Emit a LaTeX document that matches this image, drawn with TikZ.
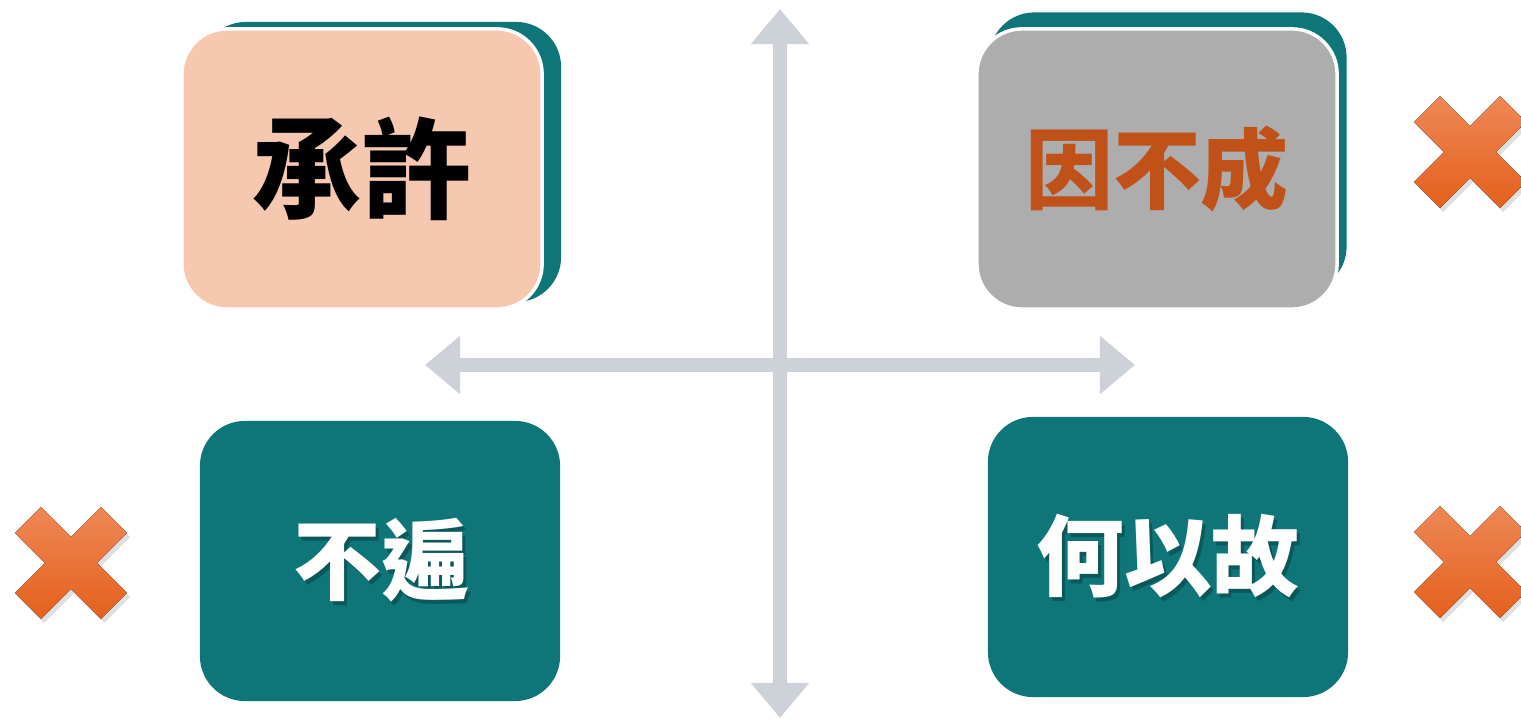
\documentclass[tikz,border=0pt]{standalone}
\usepackage{fontspec}
\usepackage{xcolor}
\usepackage{tikz}
\usetikzlibrary{arrows.meta,shadows}
\newfontfamily\cjk{Noto Sans CJK TC}

\definecolor{petrol}{RGB}{14,118,120}
\definecolor{pfirsich}{RGB}{246,200,176}
\definecolor{grau}{RGB}{173,173,173}
\definecolor{rostrot}{RGB}{192,81,24}
\definecolor{pfeilgrau}{RGB}{205,210,216}
\definecolor{xoben}{RGB}{238,136,86}
\definecolor{xunten}{RGB}{228,96,28}

\tikzset{
  pics/kreuz/.style={code={
    \fill[top color=xoben, bottom color=xunten,
          drop shadow={opacity=0.25, shadow xshift=0.03cm, shadow yshift=-0.04cm}]
      (0,-26) -- (30,-56) -- (56,-30) -- (26,0) -- (56,30) -- (30,56)
      -- (0,26) -- (-30,56) -- (-56,30) -- (-26,0) -- (-56,-30) -- (-30,-56) -- cycle;
  }}
}

\begin{document}
\begin{tikzpicture}[x=0.01cm, y=-0.01cm,
    box/.style={rounded corners=0.45cm, minimum width=3.6cm, minimum height=2.8cm,
                inner sep=0pt, font=\cjk\bfseries},
    hell/.style={box, draw=white, line width=1pt},
    pfeil/.style={pfeilgrau, line width=0.14cm,
                  {Triangle[width=0.56cm, length=0.35cm]}-{Triangle[width=0.56cm, length=0.35cm]}},
    schatten/.style={font=\cjk\bfseries\fontsize{25}{25}\selectfont, text=black, opacity=0.25}]
  \useasboundingbox (0,0) rectangle (1521,719);

  % Achsen
  \coordinate (oben) at (780,9);
  \coordinate (unten) at (780,718);
  \coordinate (links) at (425,365);
  \coordinate (rechts) at (1135,365);
  \draw[pfeil] (oben) -- (unten);
  \draw[pfeil] (links) -- (rechts);

  % oben links
  \node[box, fill=petrol] (chengxu-hinten) at (381,162) {};
  \node[hell, fill=pfirsich, font=\cjk\bfseries\fontsize{31}{31}\selectfont] (chengxu) at (362,169) {承許};

  % oben rechts
  \node[box, fill=petrol, minimum width=3.57cm, minimum height=2.79cm] (yinbucheng-hinten) at (1168,152) {};
  \node[hell, fill=grau, text=rostrot, font=\cjk\bfseries\fontsize{25}{25}\selectfont] (yinbucheng) at (1157,169) {因不成};

  % unten
  \node[box, fill=petrol] (bubian) at (380,561) {};
  \node[schatten] (bubian-schatten) at (384,564) {不遍};
  \node[text=white, font=\cjk\bfseries\fontsize{25}{25}\selectfont] (bubian-text) at (381,560) {不遍};

  \node[box, fill=petrol] (heyigu) at (1168,557) {};
  \node[schatten] (heyigu-schatten) at (1171,560) {何以故};
  \node[text=white, font=\cjk\bfseries\fontsize{25}{25}\selectfont] (heyigu-text) at (1168,556) {何以故};

  % Kreuze
  \pic at (1470,152) {kreuz};
  \pic at (71,563) {kreuz};
  \pic at (1470,562) {kreuz};
\end{tikzpicture}
\end{document}
